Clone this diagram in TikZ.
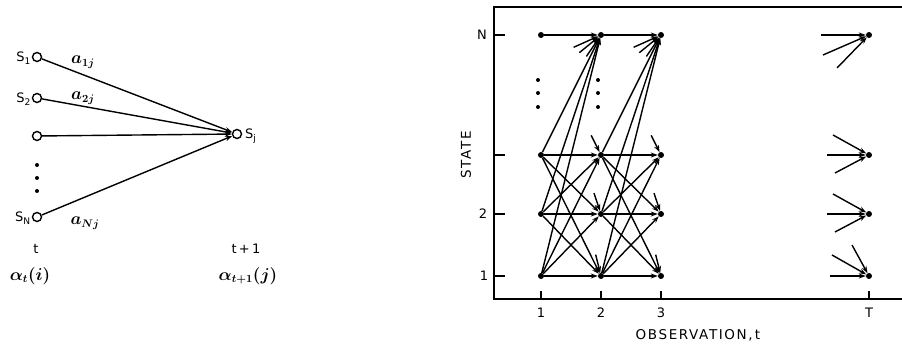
\documentclass[tikz,border=0pt]{standalone}
\usepackage{fontspec}
\setsansfont{DejaVu Sans}
\newfontfamily\widesans[LetterSpace=12]{DejaVu Sans}
\usetikzlibrary{arrows.meta,calc}
\begin{document}
\begin{tikzpicture}[x=1pt,y=-1pt,
  ln/.style={line width=1.5pt},
  arr/.style={line width=1.4pt,-{Stealth[length=7pt,width=5pt]}},
  dot/.style={circle,fill,inner sep=0pt,minimum size=6pt},
  ocirc/.style={circle,draw,line width=1.4pt,inner sep=0pt,minimum size=9pt},
  lbl/.style={font=\sffamily\fontsize{13}{15}\selectfont,inner sep=0pt},
  wlbl/.style={font=\widesans\fontsize{13.5}{15}\selectfont,inner sep=0pt},
  mlbl/.style={font=\fontsize{16}{18}\selectfont\boldmath,inner sep=0pt},
  sdot/.style={circle,fill,inner sep=0pt,minimum size=4pt},
  ]
\path[use as bounding box] (0,0) rectangle (902,347);

% ---------------- left panel ----------------
\node[ocirc] (s1) at (37,57) {};
\node[ocirc] (s2) at (37,98) {};
\node[ocirc] (s3) at (37,136) {};
\node[ocirc] (sN) at (37,217) {};
\node[ocirc] (sj) at (237,134) {};
\foreach \yy [count=\k] in {165,178,191} \node[sdot] (ld\k) at (37,\yy) {};
\foreach \s in {s1,s2,s3,sN} \draw[arr] (\s) -- (sj);
\node[lbl,anchor=east] (ls1) at (31,58) {S\textsubscript{1}};
\node[lbl,anchor=east] (ls2) at (31,99) {S\textsubscript{2}};
\node[lbl,anchor=east] (lsN) at (31,218) {S\textsubscript{N}};
\node[lbl,anchor=west] (lsj) at (245,136) {S\textsubscript{j}};
\node[mlbl] (la1) at (83,62) {$a_{1j}$};
\node[mlbl] (la2) at (83,98) {$a_{2j}$};
\node[mlbl] (laN) at (85,223) {$a_{Nj}$};
\node[lbl] (lt) at (36,249) {t};
\node[lbl] (lt1) at (246,249) {t\,+\,1};
\node[mlbl] (lal) at (30,276) {$\alpha_t(i)$};
\node[mlbl] (lal1) at (248,276) {$\alpha_{t+1}(j)$};

% ---------------- right panel ----------------
\coordinate (tl) at (494,7);
\coordinate (tr) at (902,7);
\coordinate (bl) at (494,299);
\coordinate (br) at (902,299);
\draw[ln] (tr) -- (tl) -- (bl) -- (br);
\foreach \yy in {35,155,214,276} \draw[ln] (494,\yy) -- (505,\yy);
\foreach \xx in {541,601,661,869} \draw[ln] (\xx,299) -- (\xx,291);
\node[lbl] (yN) at (482,35) {N};
\node[lbl] (y2) at (483,214) {2};
\node[lbl] (y1) at (484,276) {1};
\node[lbl] (x1) at (541,313) {1};
\node[lbl] (x2) at (601,313) {2};
\node[lbl] (x3) at (661,313) {3};
\node[lbl] (xT) at (869,313) {T};
\node[wlbl] (xlab) at (698,335) {OBSERVATION,\,t};
\node[wlbl,rotate=90] (ylab) at (466,155) {STATE};

\foreach \cc/\xx in {1/541,2/601,3/661,T/869}
  \foreach \rr/\yy in {N/35,3/155,2/214,1/276}
    \node[dot] (n\cc\rr) at (\xx,\yy) {};

\foreach \xx in {538,598} \foreach \yy [count=\k] in {80,93,107} \node[sdot] (vd\xx\k) at (\xx,\yy) {};

\foreach \pa/\pb in {1/2,2/3}{
  \draw[arr] (n\pa N) -- (n\pb N);
  \foreach \ii in {3,2,1}{
    \foreach \jj in {N,3,2,1}{
      \draw[arr] (n\pa\ii) -- (n\pb\jj);
    }
  }
  \foreach \jj in {3,2,1}
    \draw[arr] ($(n\pb\jj)!22pt!(n\pa N)$) -- (n\pb\jj);
  \foreach \dy/\len in {27/30,49/28,88/26}{
    \coordinate (v) at ($(n\pa N)+(0,\dy)$);
    \draw[arr] ($(n\pb N)!\len pt!(v)$) -- (n\pb N);
  }
}

% column T stubs
\foreach \dx/\dy in {-48/0,-46/20,-32/33}
  \draw[arr] ($(nTN)+(\dx,\dy)$) -- (nTN);
\foreach \rr in {3,2}
  \foreach \dx/\dy in {-36/-20,-42/0,-34/18}
    \draw[arr] ($(nT\rr)+(\dx,\dy)$) -- (nT\rr);
\foreach \dx/\dy in {-37/-21,-17/-31,-39/0}
  \draw[arr] ($(nT1)+(\dx,\dy)$) -- (nT1);
\end{tikzpicture}
\end{document}
